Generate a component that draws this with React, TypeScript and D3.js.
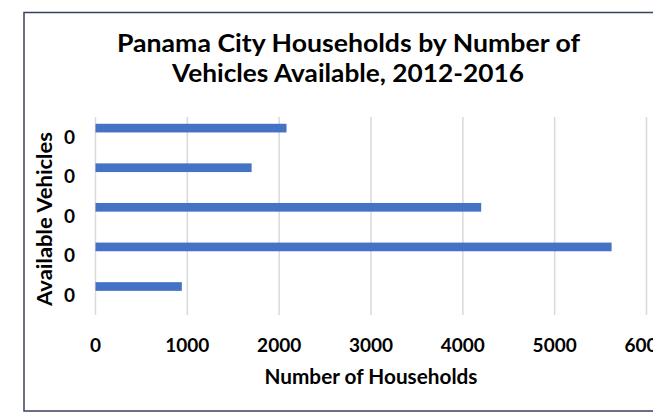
import * as d3 from 'd3'

const categories = ['c1', 'c2', 'c3', 'c4', 'c5']
const categoryLabels = ['0', '0', '0', '0', '0']
const households = [2080, 1700, 4200, 5620, 940]
const series = ['households', 'empty1', 'empty2']
const xTicks = [0, 1000, 2000, 3000, 4000, 5000, 6000]

const width = 653
const height = 412
const font = 'Lato, "Open Sans", sans-serif'

export default function App() {
  const x = d3.scaleLinear([0, 6000], [95.5, 646.5])
  const y = d3.scaleBand<string>(categories, [117, 315]).padding(0)
  const inner = d3
    .scaleBand<string>(series, [0, y.bandwidth()])
    .paddingInner(0)
    .paddingOuter(0.78)

  return (
    <svg
      width={width}
      height={height}
      style={{ position: 'fixed', left: 0, top: 0, background: 'white' }}
    >
      <rect x={24} y={12.5} width={700} height={398.5} fill="white" stroke="#3a4060" strokeWidth={1.5} />

      <text x={348.5} y={52} textAnchor="middle" fontFamily={font} fontWeight="bold" fontSize={25} fill="#000"
        textLength={463} lengthAdjust="spacingAndGlyphs">
        Panama City Households by Number of
      </text>
      <text x={348} y={82} textAnchor="middle" fontFamily={font} fontWeight="bold" fontSize={25} fill="#000"
        textLength={352} lengthAdjust="spacingAndGlyphs">
        Vehicles Available, 2012-2016
      </text>

      {xTicks.map((t) => (
        <line key={t} x1={x(t)} x2={x(t)} y1={117} y2={315} stroke="#d9d9d9" strokeWidth={1.5} />
      ))}

      {categories.map((c, i) => (
        <rect
          key={c}
          x={x(0)}
          y={(y(c) ?? 0) + (inner('households') ?? 0)}
          width={x(households[i]) - x(0)}
          height={inner.bandwidth()}
          fill="#4472c4"
        />
      ))}

      {categories.map((c, i) => (
        <text
          key={c}
          x={69.5}
          y={(y(c) ?? 0) + y.bandwidth() / 2}
          dy="0.36em"
          textAnchor="middle"
          fontFamily={font}
          fontWeight="bold"
          fontSize={19}
          fill="#000"
        >
          {categoryLabels[i]}
        </text>
      ))}

      {xTicks.map((t) => (
        <text
          key={t}
          x={x(t)}
          y={351.5}
          textAnchor="middle"
          fontFamily={font}
          fontWeight="bold"
          fontSize={19}
          fill="#000"
        >
          {t}
        </text>
      ))}

      <text x={371} y={384} textAnchor="middle" fontFamily={font} fontWeight="bold" fontSize={20.5} fill="#000"
        textLength={213} lengthAdjust="spacingAndGlyphs">
        Number of Households
      </text>
      <text
        transform="translate(52,219) rotate(-90)"
        textAnchor="middle"
        fontFamily={font}
        fontWeight="bold"
        fontSize={20.5}
        fill="#000"
        textLength={174}
        lengthAdjust="spacingAndGlyphs"
      >
        Available Vehicles
      </text>
    </svg>
  )
}
